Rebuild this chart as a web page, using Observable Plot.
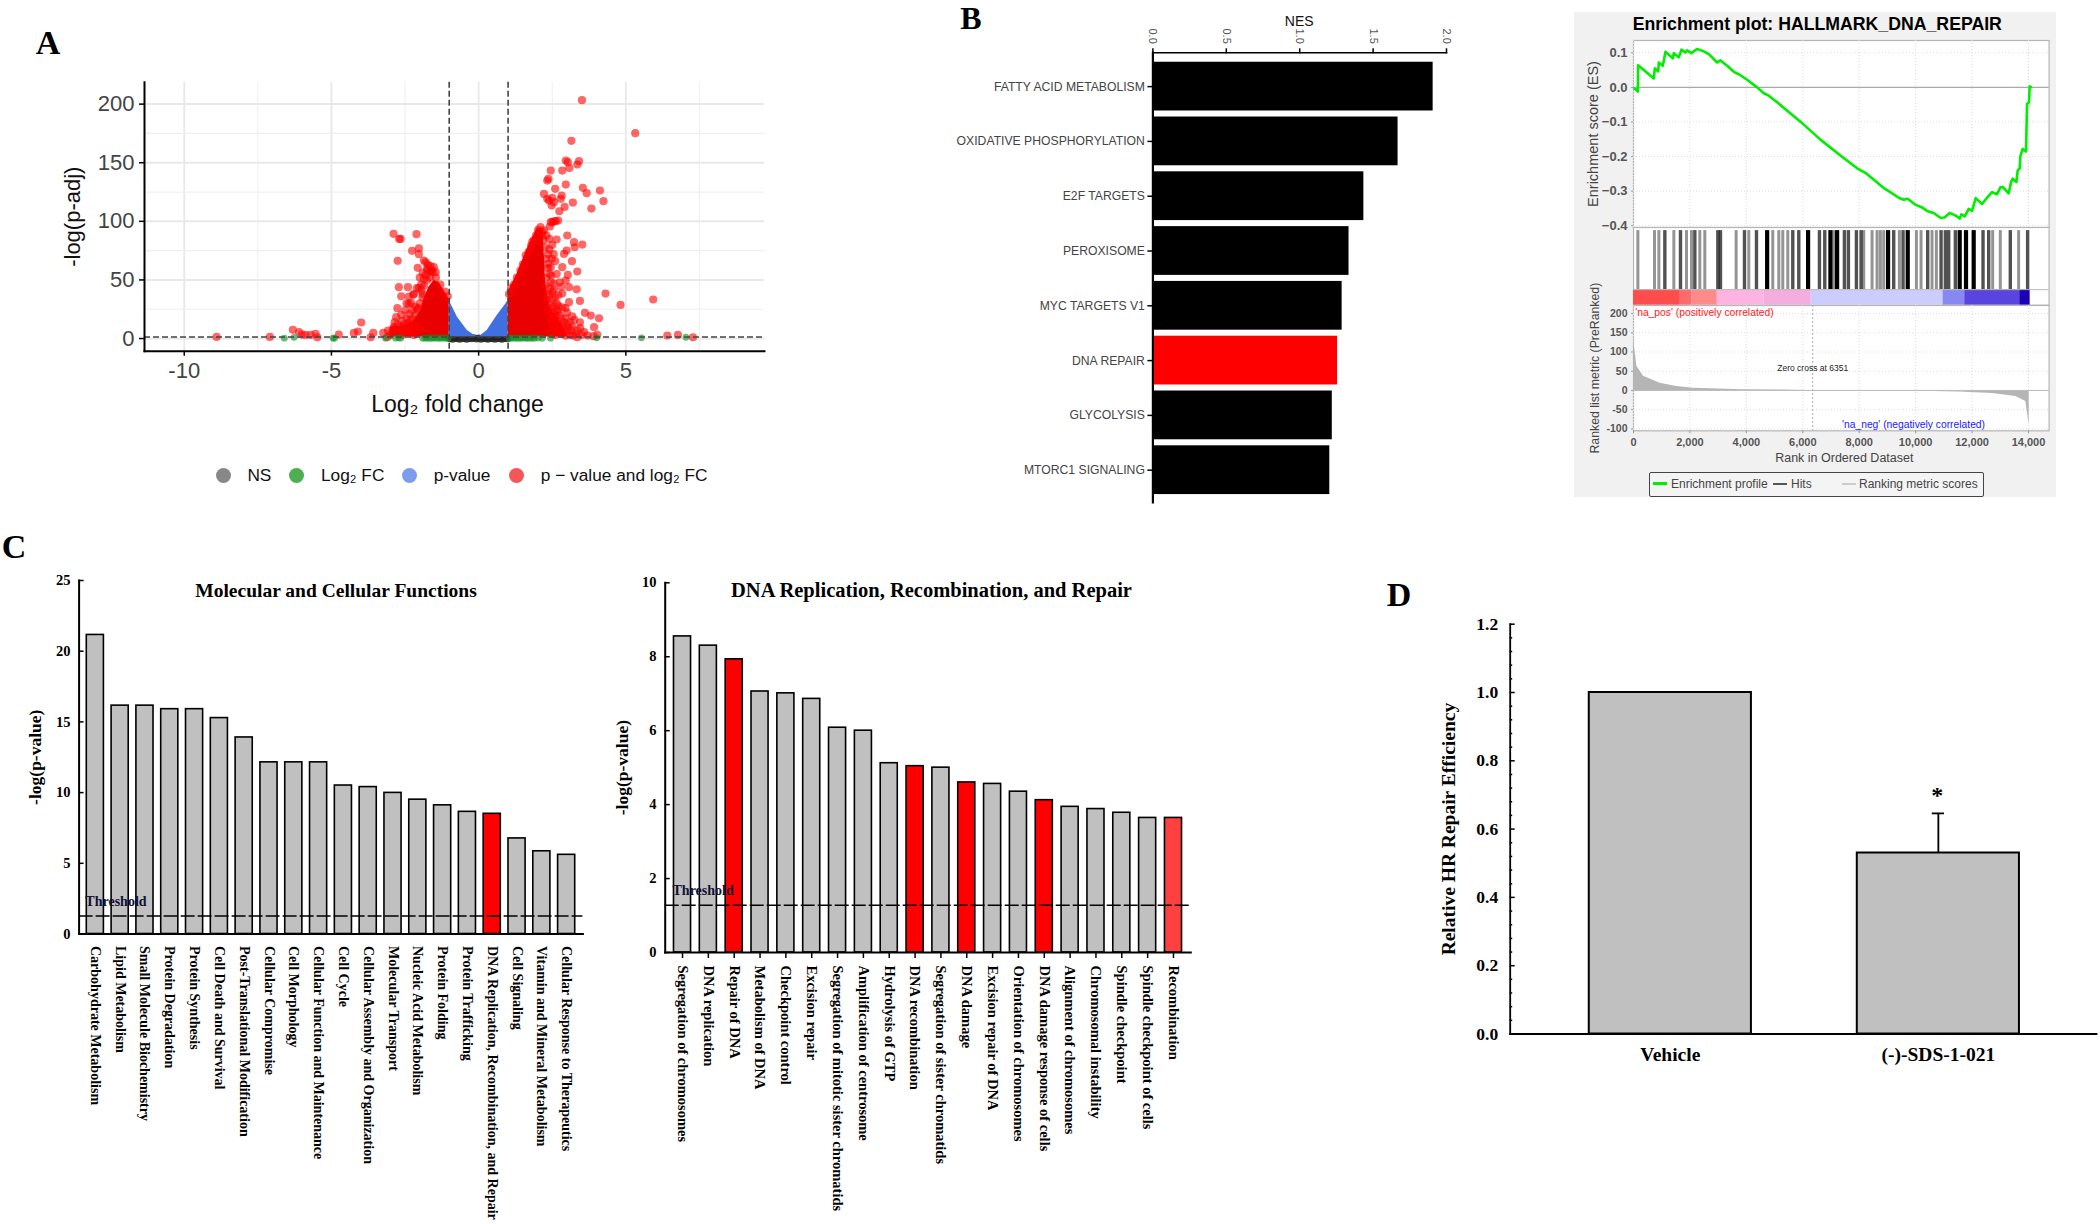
<!DOCTYPE html>
<html>
<head>
<meta charset="utf-8">
<script src="https://cdn.jsdelivr.net/npm/d3@7"></script>
<script src="https://cdn.jsdelivr.net/npm/@observablehq/plot@0.6"></script>
<style>
html,body{margin:0;padding:0;background:#fff}
#page{position:relative;width:2100px;height:1224px;overflow:hidden;background:#fff}
#page svg{position:absolute;background:transparent;overflow:visible}
.n{position:absolute;white-space:nowrap;line-height:1}
</style>
</head>
<body>
<div id="page"></div>
<script>
// ---------- Panel A: volcano ----------
const sigLfc = [-8.9,-7.09,-6.31,-6.1,-6,-5.88,-5.71,-5.54,-5.48,-4.75,-4.24,-4.1,-3.99,-3.67,-3.58,-3.24,-3.08,-3.1,
 -2.89,-2.7,-2.65,-2.11,-2.26,-2.03,-2.03,-2.75,-2.07,-1.86,-1.8,-1.72,-1.63,-1.52,-1.57,-1.46,-1.8,-1.86,-1.65,
 -2.71,-2.4,-2.03,-2.63,-2.37,-2.22,-1.91,-2.29,-2.37,-2.08,-2.76,-2.8,-2.63,-2.45,-2.33,-2.88,-2.71,-2.54,
 -1.75,-1.85,-1.9,-2,-2.05,-2.15,-2.25,-2.4,-2.55,-2.65,-2.8,-2.9,-2.95,-3,-2.6,-2.3,-2,-1.6,-1.45,-1.3,-1.15,-1.05,
 -2.15,-2.25,-2.35,-2.5,-2.6,-2.75,-2.85,-2.2,-2.1,-1.95,-1.9,-1.75,-2,-2.45,-2.2,-2.4,-2.6,-2.2,-1.95,-1.75,-1.65,
 3.51,5.32,3.15,2.96,3.03,3.41,3.35,3.08,2.84,2.45,2.37,2.33,2.96,2.6,3.54,3.67,4.12,4.24,3.83,3.2,2.92,2.74,
 2.22,2.33,2.5,2.82,2.79,2.48,2.56,2.39,2.7,2.62,2.5,2.42,2.1,2.02,2.22,
 2.56,2.45,2.16,3.01,3.24,3.52,3.26,2.65,2.5,1.82,2.99,2.9,3.17,2.48,2.84,3.35,2.36,2.45,3.03,2.47,2.96,3.07,3.33,2.39,2.56,2.84,
 4.31,5.93,4.82,3.44,3.07,2.7,2.84,3.18,3.61,3.81,4.09,3.44,3.18,3.92,4.03,3.58,3.35,6.41,6.77,7.28,
 2.3,2.35,2.3,2.28,2.35,2.3,2.4,2.45,2.35,2.5,2.55,2.65,2.45,2.7,2.85,2.9,2.75,3,2.6,2.5,2.2,2.25,2.15,2.05,1.95,1.87,1.78,1.7,1.6,1.5,1.42,1.3,1.2,1.1,1.03,
 3.1,3.3,3.5,3.7,3.9,2.95,
 2.45,2.55,2.4,2.5,2.6,2.65,2.55,2.65,2.75,2.6,2.8,2.9,3,2.95,3.05,3.15,2.7,2.5,2.4,2.35,2.4,2.3,2.4,2.55,2.6,2.65,2.75,2.8,2.7,2.95,3,3.1,3.25,3.35,3.45,2.8,2.6,2.4,3.2];
const sigNlp = [1.4,1.4,7.4,5.4,3.4,3.1,3.1,4,1,3.4,4.8,6,13.7,1.1,4.8,4.8,6.8,1.2,
 89.3,85,85,89,74.8,77,72,66.3,60.3,66.6,65,63,61.7,60.9,56.6,56.6,54,51,52,
 43.8,43.8,43.2,36,35.8,37.3,35.3,30.4,29.6,24.7,25.9,18.2,20.2,16.8,15.4,9.7,6.8,9.7,
 50,45,38,30,26,20,17,13,12,10,7,8,5,3,5,5,8,58,52,46,40,36,
 27,24,21,24,15,12,14,38,43,46,56,58,52,30,11,8,3,3,41,60,57,
 203.4,175.2,168.7,151.9,150.5,151.3,148.5,145.6,143.3,143.3,136.2,134.8,131.4,127.7,128.6,124,126.3,117.2,110.9,116,112.3,108.6,
 123.4,119.2,120,122,119.2,113.5,116.3,117.7,100.7,100.1,99.3,95.6,95,92.7,92.2,
 100,99.3,90.7,87.9,82.2,80.2,77.9,84.5,79.9,82.2,75.1,72.2,66,68,60.9,57.2,63.7,60.9,54.3,53.8,49.5,43.8,42,42.9,41.8,38.4,
 38.4,33.3,28.7,32.1,31,23,26.7,19,21.9,19.6,17.3,13.9,10.2,9.7,3.1,5.4,1.1,2.6,3.1,1.1,
 68,60,52,45,38,33,30,26,24,22,18,15,16,12,11,8,7,6,9,11,84,78,88,91,88,84,79,74,71,63,58,52,46,43,38,
 3,4,3,2.5,2,2.5,
 48,47,37,33,35,30,27,24,20,20,17,14,12,17,9,7,28,40,55,72,76,88,85,72,66,55,48,44,37,26,22,14,16,7,9,4,3,5,2.5];
const wedgeLeftLfc = [-2.99,-2.54,-2.2,-1.97,-1.86,-1.69,-1.52,-1.35,-1.18,-1];
const wedgeLeftTop = [9.7,11,15.4,23.9,33.8,43.8,49.5,48,41,33.8];
const wedgeRightLfc = [1,1.14,1.31,1.49,1.65,1.82,1.99,2.16,2.2,2.24,2.27,2.35,2.45,2.79,3];
const wedgeRightTop = [39.5,46.6,55.2,66.6,76.5,85,93.6,93,85,68,50,35,25,14,4];
const pvalLeftLfc = [-1,-.72,-.385,-.16,-.02];
const pvalLeftTop = [32.4,18.2,6.8,3.1,1.5];
const pvalRightLfc = [.02,.29,.63,.95,1];
const pvalRightTop = [1.5,6.8,19.6,30.4,33];
const fcLfc = [-6.6,-6.27,-4.94,-4.9,-3.16,-2.82,-2.65,-2.72,-1.9,-1.82,-1.74,-1.66,-1.58,-1.5,-1.42,-1.34,-1.26,-1.18,-1.1,-1.03,
 1.04,1.1,1.18,1.26,1.34,1.42,1.5,1.58,1.66,1.74,1.82,1.9,2.02,2.16,2.44,4.01,5.53,7.04];
const fcNlp = [.3,1,.3,.3,.3,.3,.3,.6,.2,.4,.2,.3,.2,.4,.3,.2,.4,.3,.2,.4,.3,.2,.4,.2,.3,.2,.4,.3,.2,.4,.2,.3,.4,.2,.3,.6,.6,1.1];
const nsLfc = [-.97,-.88,-.8,-.72,-.64,-.56,-.48,-.4,-.32,-.24,-.16,-.08,0,.08,.16,.24,.32,.4,.48,.56,.64,.72,.8,.88,.97];
const nsNlp = [.1,-.3,.3,0,-.4,.2,0,-.3,.2,0,.4,-.2,.2,-.3,.3,0,-.4,.2,0,-.3,.3,0,-.4,.2,0];
const pThreshold = 1.3;
const fcThresholds = [-1,1];
const volcanoXTicks = [-10,-5,0,5];
const volcanoXMinor = [-7.5,-2.5,2.5,7.5];
const volcanoYTicks = [0,50,100,150,200];
const volcanoYMinor = [25,75,125,175];

// ---------- Panel B: NES bars ----------
const nesNames = ["FATTY ACID METABOLISM","OXIDATIVE PHOSPHORYLATION","E2F TARGETS","PEROXISOME","MYC TARGETS V1","DNA REPAIR","GLYCOLYSIS","MTORC1 SIGNALING"];
const nesValues = [1.909,1.67,1.437,1.336,1.289,1.258,1.222,1.205];
const nesTicks = [0,.5,1,1.5,2];
const nesHighlight = ["DNA REPAIR"];

// ---------- Panel B: GSEA ----------
const esRank = [35,154,165,720,756,874,898,1039,1134,1394,1429,1606,1701,1842,1901,2043,2256,2492,2669,2964,3082,3319,3555,3732,4027,4382,4618,4795,5090,5917,6625,7334,7925,8220,8869,9105,9401,9578,9720,9991,10227,10405,10641,10877,11019,11208,11408,11562,11621,11739,11881,11999,12129,12353,12530,12708,12885,13003,13085,13298,13381,13440,13570,13617,13688,13711,13794,13912,13948,14018,14042,14089];
const esScore = [-.003,-.012,.064,.026,.055,.046,.072,.0625,.103,.084,.099,.087,.109,.101,.107,.099,.111,.104,.096,.072,.078,.0625,.045,.038,.022,0,-.017,-.024,-.043,-.099,-.151,-.197,-.234,-.247,-.291,-.303,-.319,-.325,-.322,-.339,-.347,-.357,-.363,-.377,-.376,-.363,-.37,-.379,-.367,-.373,-.351,-.357,-.32,-.337,-.319,-.303,-.309,-.289,-.288,-.306,-.274,-.264,-.274,-.24,-.234,-.199,-.178,-.185,-.048,-.043,.003,.001];
const hitsGrey = [154,744,898,1429,1878,2055,2350,2527,3637,4086,4936,5149,5291,5468,7098,8161,8456,8633,8751,8869,9424,10027,10192,10581,10735,12731,13002,13651];
const hitsDark = [1110,1665,2173,2988,3082,3933,4358,5645,5858,6590,6779,7475,7617,7901,8066,9223,9554,10428,10901,11054,11172,11408,12389,12590,13356,13970];
const hitsBlack = [4736,6188,6980,7216,9023,9720,11562,11786,12058];
const bandStart = [0,1630,2070,2970,4620,6300,10970,11740,13690];
const bandEnd = [1630,2070,2970,4620,6300,10970,11740,13690,14060];
const bandColor = ["#ff4d4d","#ff6a6a","#ff8a8a","#fdb4e0","#f3aede","#ccccff","#8888f2","#5a44e0","#1c00b8"];
const metricRank = [0,60,120,354,943,1532,2121,3889,6305,9192,11549,12728,13553,13906,14024];
const metricValue = [130,100,63,37,19,10.5,6,2,0,-1,-4,-8,-16,-29,-90];
const zeroCross = 6351;
const esTicks = [.1,0,-.1,-.2,-.3,-.4];
const metricTicks = [200,150,100,50,0,-50,-100];
const rankTicks = [0,2000,4000,6000,8000,10000,12000,14000];

// ---------- Panel C ----------
const molNames = ["Carbohydrate Metabolism","Lipid Metabolism","Small Molecule Biochemistry","Protein Degradation","Protein Synthesis","Cell Death and Survival","Post-Translational Modification","Cellular Compromise","Cell Morphology","Cellular Function and Maintenance","Cell Cycle","Cellular Assembly and Organization","Molecular Transport","Nucleic Acid Metabolism","Protein Folding","Protein Trafficking","DNA Replication, Recombination, and Repair","Cell Signaling","Vitamin and Mineral Metabolism","Cellular Response to Therapeutics"];
const molValues = [21.15,16.15,16.15,15.9,15.9,15.27,13.9,12.14,12.14,12.14,10.5,10.39,9.98,9.5,9.1,8.64,8.5,6.76,5.85,5.6];
const molRed = ["DNA Replication, Recombination, and Repair"];
const dnaNames = ["Segregation of chromosomes","DNA replication","Repair of DNA","Metabolism of DNA","Checkpoint control","Excision repair","Segregation of mitotic sister chromatids","Amplification of centrosome","Hydrolysis of GTP","DNA recombination","Segregation of sister chromatids","DNA damage","Excision repair of DNA","Orientation of chromosomes","DNA damage response of cells","Alignment of chromosomes","Chromosomal instability","Spindle checkpoint","Spindle checkpoint of cells","Recombination"];
const dnaValues = [8.55,8.3,7.93,7.06,7.01,6.86,6.08,6,5.12,5.04,5,4.6,4.56,4.35,4.12,3.94,3.88,3.78,3.64,3.64];
const dnaRed = ["Repair of DNA","DNA recombination","DNA damage","DNA damage response of cells"];
const dnaLightRed = ["Recombination"];
const thresholdValue = 1.28;

// ---------- Panel D ----------
const hrNames = ["Vehicle","(-)-SDS-1-021"];
const hrValues = [1,.53];
const hrErrorTop = .646;
const hrStarAt = .7;
const hrTicks = [0,.2,.4,.6,.8,1,1.2];
const hrMinor = [.04,.08,.12,.16,.24,.28,.32,.36,.44,.48,.52,.56,.64,.68,.72,.76,.84,.88,.92,.96,1.04,1.08,1.12,1.16];

const SANS = '"Liberation Sans", Arial, sans-serif';
const SERIF = '"Liberation Serif", "Times New Roman", serif';
const page = document.getElementById("page");
const zip = (a,b,k1,k2)=>a.map((v,i)=>({[k1]:v,[k2]:b[i]}));
function place(svg,left,top){ svg.style.left=left+"px"; svg.style.top=top+"px"; page.appendChild(svg); }
function note(text,x,y,css={},anchor="left"){
  const d=document.createElement("div"); d.className="n"; d.textContent=text;
  d.style.left=x+"px"; d.style.top=y+"px";
  const tx = anchor==="center"?"-50%":anchor==="right"?"-100%":"0";
  d.style.transform=`translate(${tx},-50%)`;
  Object.assign(d.style,css); page.appendChild(d); return d;
}

// ---- backgrounds and panel letters ----
const bg=document.createElement("div");
Object.assign(bg.style,{position:"absolute",left:"1574px",top:"12px",width:"482px",height:"485px",background:"#f1f1f1"});
page.appendChild(bg);
const letter={fontFamily:SERIF,fontWeight:"bold",fontSize:"34px",color:"#000",lineHeight:"0.8"};
note("A",48,43,letter,"center");
note("B",971,19,{...letter,fontSize:"32px"},"center");
note("C",14,547,letter,"center");
note("D",1399,595,letter,"center");

// ---- Panel A ----
place(Plot.plot({
  width:730,height:360,marginLeft:84,marginRight:26,marginTop:11.7,marginBottom:79.3,
  style:{fontFamily:SANS,background:"transparent"},
  x:{domain:[-11.35,9.71]},y:{domain:[-10.8,218.7]},
  marks:[
    Plot.ruleX(volcanoXMinor,{stroke:"#efefef",strokeWidth:1}),
    Plot.ruleX(volcanoXTicks,{stroke:"#e8e8e8",strokeWidth:1.8}),
    Plot.ruleY(volcanoYMinor,{stroke:"#efefef",strokeWidth:1.2}),
    Plot.ruleY(volcanoYTicks,{stroke:"#e8e8e8",strokeWidth:2}),
    Plot.dot(zip(nsLfc,nsNlp,"x","y"),{x:"x",y:"y",r:3.8,fill:"#222",fillOpacity:.75}),
    Plot.areaY(zip(pvalLeftLfc,pvalLeftTop,"x","y"),{x:"x",y1:pThreshold,y2:"y",fill:"#3f6fe0"}),
    Plot.areaY(zip(pvalRightLfc,pvalRightTop,"x","y"),{x:"x",y1:pThreshold,y2:"y",fill:"#3f6fe0"}),
    Plot.areaY(zip(wedgeLeftLfc,wedgeLeftTop,"x","y"),{x:"x",y1:pThreshold,y2:"y",fill:"#ea0000"}),
    Plot.areaY(zip(wedgeRightLfc,wedgeRightTop,"x","y"),{x:"x",y1:pThreshold,y2:"y",fill:"#ea0000"}),
    Plot.dot(zip(sigLfc,sigNlp,"x","y"),{x:"x",y:"y",r:4.1,fill:"#f00",fillOpacity:.6}),
    Plot.dot(zip(fcLfc,fcNlp,"x","y"),{x:"x",y:"y",r:3.4,fill:"#0a8f1e",fillOpacity:.6}),
    Plot.ruleX(fcThresholds,{stroke:"#444",strokeWidth:1.6,strokeDasharray:"6,3"}),
    Plot.ruleY([pThreshold],{stroke:"#444",strokeWidth:1.6,strokeDasharray:"6,3"}),
    Plot.frame({anchor:"left",stroke:"#000",strokeWidth:2}),
    Plot.frame({anchor:"bottom",stroke:"#000",strokeWidth:2}),
    Plot.axisX({ticks:volcanoXTicks,tickFormat:String,tickSize:5,tickPadding:6,fontSize:22,fill:"#444",stroke:"#000",strokeWidth:1.5,label:null}),
    Plot.axisY({ticks:volcanoYTicks,tickFormat:String,tickSize:5,tickPadding:5,fontSize:22,fill:"#444",stroke:"#000",strokeWidth:1.5,label:null}),
    Plot.text(["Log₂ fold change"],{frameAnchor:"bottom",dx:3,dy:61,fontSize:23,fill:"#111"}),
    Plot.text(["-log(p-adj)"],{frameAnchor:"left",textAnchor:"middle",dx:-72,rotate:-90,fontSize:22,fill:"#111"})
  ]
}),60,70);

// volcano legend
const legendItems=[["NS","#888",223.5,247.4],["Log₂ FC","#4caf50",296.4,321],["p-value","#7d9cec",409.7,433.7],["p − value and log₂ FC","#f4565a",516.8,540.8]];
for(const [t,c,cx,tx] of legendItems){
  const s=document.createElement("div");
  Object.assign(s.style,{position:"absolute",left:(cx-7.5)+"px",top:"468px",width:"15px",height:"15px",borderRadius:"50%",background:c});
  page.appendChild(s);
  note(t,tx,476,{fontFamily:SANS,fontSize:"17.3px",color:"#111"});
}

// ---- Panel B bars ----
place(Plot.plot({
  width:510,height:502,marginLeft:202.4,marginRight:14,marginTop:52.3,marginBottom:0,
  style:{fontFamily:SANS,background:"transparent"},
  x:{domain:[0,2]},
  y:{domain:nesNames,range:[55.7,500.1],padding:.11,round:false},
  marks:[
    Plot.barX(nesNames.map((n,i)=>({n,v:nesValues[i]})),{x1:0,x2:"v",y:"n",insetLeft:1,fill:d=>nesHighlight.includes(d.n)?"#ff0000":"#000"}),
    Plot.frame({anchor:"left",stroke:"#000",strokeWidth:2.2}),
    Plot.frame({anchor:"top",stroke:"#000",strokeWidth:1.6}),
    Plot.axisX({anchor:"top",ticks:nesTicks,tickFormat:d3.format(".1f"),tickRotate:90,tickSize:5,tickPadding:4,fontSize:11,fill:"#555",stroke:"#000",strokeWidth:1.5,label:null}),
    Plot.axisY({tickSize:5,tickPadding:3,fontSize:12.2,fill:"#444",stroke:"#000",strokeWidth:1.5,label:null}),
    Plot.text(["NES"],{frameAnchor:"top",dy:-37,dx:-.5,fontSize:14,fill:"#111"})
  ]
}),950,0);

// ---- Panel B GSEA ----
const xRank={domain:[0,14730],range:[58,473.6]};
const xRankHidden={...xRank,axis:null};
const frameGrey={stroke:"#b5b5b5",strokeWidth:1.2,fill:"#fff"};
const gseaFill="#555";
place(Plot.plot({
  width:481,height:195,marginLeft:58,marginRight:7.4,marginTop:8,marginBottom:0,
  style:{fontFamily:SANS,background:"transparent"},
  x:xRankHidden,y:{domain:[-.405,.1355]},
  marks:[
    Plot.frame(frameGrey),
    Plot.ruleY(esTicks,{stroke:"#ddd",strokeDasharray:"1,2"}),
    Plot.ruleX(rankTicks,{stroke:"#ddd",strokeDasharray:"1,2"}),
    Plot.ruleY([0],{stroke:"#aaa",strokeWidth:1.4}),
    Plot.lineY(zip(esRank,esScore,"r","s"),{x:"r",y:"s",stroke:"#00ee00",strokeWidth:2.6,curve:"linear"}),
    Plot.axisY({ticks:esTicks,tickFormat:d3.format(".1f"),tickSize:2,tickPadding:4,fontSize:13,fontWeight:"bold",fill:gseaFill,stroke:"#999",label:null}),
    Plot.text(["Enrichment score (ES)"],{frameAnchor:"left",textAnchor:"middle",dx:-40,rotate:-90,fontSize:14.5,fill:"#444"}),
    Plot.text(["Enrichment plot: HALLMARK_DNA_REPAIR"],{frameAnchor:"top",dx:-24,dy:-23,fontSize:17.7,fontWeight:"bold",fill:"#000"})
  ]
}),1575,32);
place(Plot.plot({
  width:481,height:77.7,marginLeft:58,marginRight:7.4,marginTop:0,marginBottom:0,
  style:{fontFamily:SANS,background:"transparent"},
  x:xRankHidden,y:{domain:[0,1],range:[77.7,0],axis:null},
  marks:[
    Plot.frame(frameGrey),
    Plot.ruleX(hitsGrey,{y1:.2,y2:.96,stroke:"#000",strokeOpacity:.42,strokeWidth:3}),
    Plot.ruleX(hitsDark,{y1:.2,y2:.96,stroke:"#000",strokeOpacity:.68,strokeWidth:3.4}),
    Plot.ruleX(hitsBlack,{y1:.2,y2:.96,stroke:"#000",strokeWidth:4.2}),
    Plot.rectY(bandStart.map((s,i)=>({s,e:bandEnd[i],c:bandColor[i]})),{x1:"s",x2:"e",y1:0,y2:.2,fill:"c"}),
    Plot.ruleY([.2],{stroke:"#bbb"})
  ]
}),1575,227);
place(Plot.plot({
  width:481,height:165,marginLeft:58,marginRight:7.4,marginTop:0,marginBottom:39.7,
  style:{fontFamily:SANS,background:"transparent"},
  x:xRank,y:{domain:[-105,221]},
  marks:[
    Plot.frame(frameGrey),
    Plot.ruleY(metricTicks,{stroke:"#ddd",strokeDasharray:"1,2"}),
    Plot.ruleX(rankTicks,{stroke:"#ddd",strokeDasharray:"1,2"}),
    Plot.areaY(zip(metricRank,metricValue,"r","m"),{x:"r",y:"m",fill:"#b5b5b5"}),
    Plot.ruleY([0],{stroke:"#bbb"}),
    Plot.ruleX([zeroCross],{stroke:"#aaa",strokeDasharray:"2,2"}),
    Plot.text(["'na_pos' (positively correlated)"],{x:60,y:202,textAnchor:"start",fontSize:10.3,fill:"#ff2020"}),
    Plot.text(["'na_neg' (negatively correlated)"],{x:7390,y:-89,textAnchor:"start",fontSize:10.3,fill:"#2020ff"}),
    Plot.text(["Zero cross at "+zeroCross],{x:zeroCross,y:58,fontSize:8.5,fill:"#222"}),
    Plot.axisY({ticks:metricTicks,tickFormat:String,tickSize:2,tickPadding:4,fontSize:10.5,fontWeight:"bold",fill:gseaFill,stroke:"#999",label:null}),
    Plot.axisX({ticks:rankTicks,tickFormat:d3.format(","),tickSize:3,tickPadding:4,fontSize:11,fontWeight:"bold",fill:gseaFill,stroke:"#999",label:null}),
    Plot.text(["Ranked list metric (PreRanked)"],{frameAnchor:"left",textAnchor:"middle",dx:-38,rotate:-90,fontSize:12.3,fill:"#444"}),
    Plot.text(["Rank in Ordered Dataset"],{frameAnchor:"bottom",dy:31,dx:3,fontSize:12.5,fill:"#444"})
  ]
}),1575,304.7);
// GSEA legend
const lb=document.createElement("div");
Object.assign(lb.style,{position:"absolute",left:"1649px",top:"472px",width:"333px",height:"23px",border:"1.5px solid #444",borderRadius:"2px",background:"#f4f4f4"});
page.appendChild(lb);
const gseaLegend=[["Enrichment profile","#00ee00",1653,1671,3],["Hits","#555",1773,1791,2],["Ranking metric scores","#ccc",1842,1859,2]];
for(const [t,c,lx,tx,h] of gseaLegend){
  const s=document.createElement("div");
  Object.assign(s.style,{position:"absolute",left:lx+"px",top:(483.5-h/2)+"px",width:"14px",height:h+"px",background:c});
  page.appendChild(s);
  note(t,tx,483.5,{fontFamily:SANS,fontSize:"12px",color:"#444"});
}

// ---- Panel C ----
function pathwayPlot({names,values,red,lightRed=[],title,titleSize,titleDx,titleDy,ticks,yMax,padding,width,height,ml,mr,mt,mb,xTick,xPad,xFont,ylDx,thrDy}){
  return Plot.plot({
    width,height,marginLeft:ml,marginRight:mr,marginTop:mt,marginBottom:mb,
    style:{fontFamily:SERIF,background:"transparent"},
    x:{domain:names,padding,round:false},y:{domain:[0,yMax]},
    marks:[
      Plot.barY(names.map((n,i)=>({n,v:values[i]})),{x:"n",y:"v",stroke:"#000",strokeWidth:1.6,
        fill:d=>red.includes(d.n)?"#ff0000":lightRed.includes(d.n)?"#ff4040":"#c0c0c0"}),
      Plot.ruleY([thresholdValue],{stroke:"#000",strokeWidth:1.5,strokeDasharray:"14,3"}),
      Plot.text(["Threshold"],{x:()=>names[0],y:thresholdValue,textAnchor:"start",dx:-10,dy:thrDy,fontSize:14,fontWeight:"bold",fill:"#113"}),
      Plot.frame({anchor:"left",stroke:"#000",strokeWidth:2}),
      Plot.frame({anchor:"bottom",stroke:"#000",strokeWidth:2}),
      Plot.axisY({ticks,tickSize:-5,fill:"none",stroke:"#000",strokeWidth:1.5,label:null}),
      Plot.axisY({ticks,tickSize:0,tickPadding:8.6,fontSize:14.5,fontWeight:"bold",fill:"#000",label:null}),
      Plot.axisX({tickRotate:90,tickSize:xTick,tickPadding:xPad,fontSize:xFont,fontWeight:"bold",fill:"#000",stroke:"#000",strokeWidth:1.5,lineWidth:Infinity,label:null,tickFormat:d=>d}),
      Plot.text([title],{frameAnchor:"top",dx:titleDx,dy:titleDy,fontSize:titleSize,fontWeight:"bold",fill:"#000"}),
      Plot.text(["-log(p-value)"],{frameAnchor:"left",textAnchor:"middle",dx:ylDx,rotate:-90,fontSize:17.5,fontWeight:"bold",fill:"#000"})
    ]
  });
}
place(pathwayPlot({names:molNames,values:molValues,red:molRed,title:"Molecular and Cellular Functions",titleSize:19.5,titleDx:5,titleDy:3,
  ticks:[0,5,10,15,20,25],yMax:25,padding:.31,width:600,height:656,ml:78.6,mr:17.6,mt:12,mb:290.5,xTick:0,xPad:12,xFont:14,ylDx:-43.6,thrDy:-14}),0,568);
place(pathwayPlot({names:dnaNames,values:dnaValues,red:dnaRed,lightRed:dnaLightRed,title:"DNA Replication, Recombination, and Repair",titleSize:20.5,titleDx:3.5,titleDy:0,
  ticks:[0,2,4,6,8,10],yMax:10,padding:.34,width:580,height:654,ml:44.7,mr:9.7,mt:12.3,mb:272,xTick:6,xPad:7,xFont:14.5,ylDx:-43,thrDy:-15}),620,570);

// ---- Panel D ----
place(Plot.plot({
  width:680,height:490,marginLeft:89.7,marginRight:4,marginTop:13.7,marginBottom:66.5,
  style:{fontFamily:SERIF,background:"transparent"},
  x:{domain:hrNames,range:[62.9,704.8],padding:.395,round:false},y:{domain:[0,1.2]},
  marks:[
    Plot.barY(hrNames.map((n,i)=>({n,v:hrValues[i]})),{x:"n",y:"v",fill:"#c0c0c0",stroke:"#000",strokeWidth:2}),
    Plot.ruleX([hrNames[1]],{x:d=>d,y1:hrValues[1],y2:hrErrorTop,stroke:"#000",strokeWidth:1.8}),
    Plot.tickY([hrErrorTop],{x:()=>hrNames[1],y:d=>d,insetLeft:75,insetRight:75,stroke:"#000",strokeWidth:1.8}),
    Plot.text(["*"],{x:()=>hrNames[1],y:hrStarAt,dy:0,dx:-1,fontSize:24,fontWeight:"bold",fill:"#000"}),
    Plot.frame({anchor:"left",stroke:"#000",strokeWidth:1.8}),
    Plot.frame({anchor:"bottom",stroke:"#000",strokeWidth:1.8}),
    Plot.axisY({ticks:hrMinor,tickSize:-2.5,fill:"none",stroke:"#000",strokeWidth:1.5,label:null}),
    Plot.axisY({ticks:hrTicks,tickSize:-5,fill:"none",stroke:"#000",strokeWidth:1.5,label:null}),
    Plot.axisY({ticks:hrTicks,tickFormat:d3.format(".1f"),tickSize:0,tickPadding:12,fontSize:17.5,fontWeight:"bold",fill:"#000",label:null}),
    Plot.axisX({tickSize:0,tickPadding:13,fontSize:19.5,fontWeight:"bold",fill:"#000",label:null}),
    Plot.text(["Relative HR Repair Efficiency"],{frameAnchor:"left",textAnchor:"middle",dx:-61.7,rotate:-90,fontSize:19.5,fontWeight:"bold",fill:"#000"})
  ]
}),1420,610);
</script>
</body>
</html>
